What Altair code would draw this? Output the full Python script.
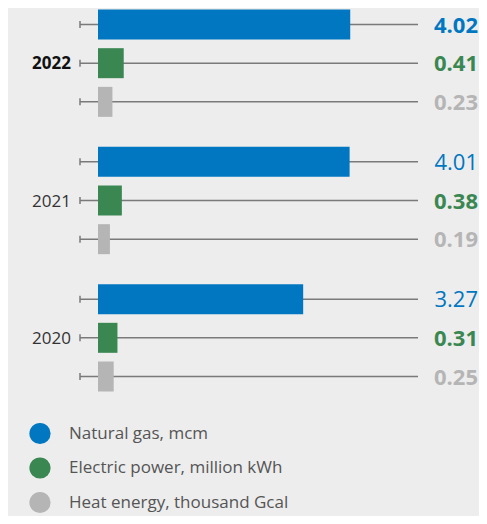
import altair as alt
import pandas as pd

years = ["2022", "2021", "2020"]
series = ["Natural gas, mcm", "Electric power, million kWh", "Heat energy, thousand Gcal"]
gas = [4.02, 4.01, 3.27]
elec = [0.41, 0.38, 0.31]
heat = [0.23, 0.19, 0.25]
colors = ["#0077c0", "#3a8751", "#b5b5b5"]

GROUP_STEP = 3.55
rows = []
for yi, yr in enumerate(years):
    for si, vals in enumerate([gas, elec, heat]):
        rows.append({"year": yr, "series": series[si], "value": vals[yi],
                     "pos": yi * GROUP_STEP + si})
df = pd.DataFrame(rows)

FONT = "Open Sans"
W, H = 320, 352
ymax = (len(years) - 1) * GROUP_STEP + 2

y = alt.Y("pos:Q", scale=alt.Scale(domain=[0, ymax], reverse=True, nice=False, zero=False, padding=0),
          axis=None)
x = alt.X("value:Q", scale=alt.Scale(domain=[0, 5.1], nice=False, padding=0), axis=None)
cscale = alt.Scale(domain=series, range=colors)

base = alt.Chart(df).properties(width=W, height=H)

lines = base.mark_rule(color="#7a7a7a", strokeWidth=1.5).encode(
    x=alt.value(-18), x2=alt.value(W), y=y)
ticks = base.mark_point(shape="M0,-1L0,1", size=49, strokeWidth=1.5, color="#7a7a7a",
                        filled=False, opacity=1).encode(x=alt.value(-18), y=y)
bars = base.mark_bar(orient="horizontal", size=30).encode(
    x=x, y=y,
    color=alt.Color("series:N", scale=cscale, sort=series,
                    legend=alt.Legend(orient="none", legendX=-69, legendY=398, title=None,
                                      symbolType="circle", symbolSize=450, symbolStrokeWidth=0,
                                      symbolOpacity=1, labelFontSize=17, labelColor="#555555",
                                      labelFont=FONT, labelOffset=18, rowPadding=12.5,
                                      labelLimit=400)))

bold_test = "datum.series != 'Natural gas, mcm' || datum.year == '2022'"
lab_enc = dict(x=alt.value(380), y=y,
               text=alt.Text("value:Q", format=".2f"),
               color=alt.Color("series:N", scale=cscale, legend=None))
labels_b = base.transform_filter(bold_test).mark_text(
    align="right", baseline="middle", fontSize=22, font=FONT, fontWeight="bold", dy=1).encode(**lab_enc)
labels_n = base.transform_filter("!(" + bold_test + ")").mark_text(
    align="right", baseline="middle", fontSize=22, font=FONT, fontWeight="normal", dy=1).encode(**lab_enc)

yb = base.transform_filter(alt.datum.series == series[1])
year_b = yb.transform_filter(alt.datum.year == years[0]).mark_text(
    align="right", baseline="middle", fontSize=17, font=FONT, fontWeight="bold",
    color="#111111", dy=1).encode(x=alt.value(-27), y=y, text="year:N")
year_n = yb.transform_filter(alt.datum.year != years[0]).mark_text(
    align="right", baseline="middle", fontSize=17, font=FONT, fontWeight="normal",
    color="#333333", dy=1).encode(x=alt.value(-27), y=y, text="year:N")

chart = alt.layer(lines, ticks, bars, labels_b, labels_n, year_b, year_n).properties(
    autosize=alt.AutoSizeParams(type="none"),
    padding={"left": 90, "top": 16.5, "right": 61, "bottom": 139.5},
    background="#ededed",
).configure_view(stroke=None)

chart.save("out.html", embed_options={"renderer": "svg", "actions": False})
